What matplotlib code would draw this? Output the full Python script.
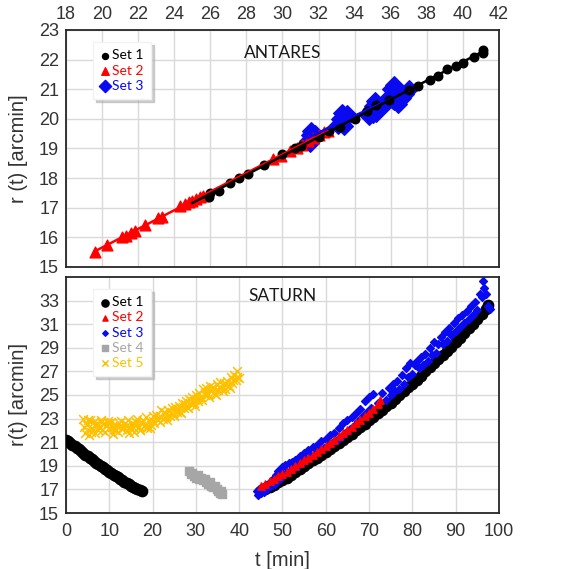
import numpy as np
import matplotlib
matplotlib.use('Agg')
import matplotlib.pyplot as plt

# ---------------- ANTARES ----------------
ant1_t = [25.9, 26.0, 26.5, 27.1, 27.6, 28.1, 29.0, 30.0, 30.7, 31.0, 32.0, 32.6, 33.2, 34.0,
          34.7, 35.2, 35.9, 37.0, 37.5, 38.2, 38.6, 39.1, 39.6, 40.0, 40.6, 41.1, 41.1]
ant1_r = [17.37, 17.5, 17.57, 17.82, 17.99, 18.15, 18.44, 18.8, 19.0, 19.1, 19.4, 19.58, 19.73, 20.01,
          20.25, 20.46, 20.65, 20.99, 21.12, 21.31, 21.44, 21.68, 21.79, 21.9, 22.1, 22.32, 22.22]

ant2_t = [19.6, 20.3, 21.1, 21.3, 21.6, 21.8, 22.4, 23.1, 23.3, 24.3, 24.6, 24.8, 25.0, 25.2,
          25.4, 25.6, 29.5, 29.9, 30.4, 30.8, 31.1, 31.4, 31.7, 32.0, 32.3, 32.5]
ant2_r = [15.5, 15.75, 16.0, 16.05, 16.15, 16.22, 16.42, 16.65, 16.7, 17.05, 17.12, 17.18, 17.24, 17.3,
          17.35, 17.4, 18.65, 18.75, 18.9, 19.0, 19.12, 19.25, 19.35, 19.45, 19.55, 19.6]

ant3_t = [31.4, 31.5, 31.6, 31.7, 31.5, 31.8, 33.1, 33.2, 33.3, 33.4, 33.5, 33.3, 33.6,
          34.8, 34.9, 35.0, 35.1, 35.2, 35.0, 35.7, 35.9, 36.0, 36.1, 36.2, 36.3, 36.4,
          36.5, 36.6, 36.8, 36.2, 37.0]
ant3_r = [19.25, 19.45, 19.6, 19.35, 19.2, 19.5, 19.8, 20.0, 20.2, 19.75, 20.05, 19.9, 20.15,
          20.1, 20.3, 20.45, 20.6, 20.2, 20.15, 20.5, 20.75, 21.0, 20.65, 21.15, 20.8, 20.5,
          20.9, 20.7, 20.85, 20.6, 21.0]

# ---------------- SATURN ----------------
sat1_t = [0, 0.5, 1, 1.5, 2, 2.5, 3, 3.5, 4, 4.5, 5, 5.5, 6, 6.5, 7, 7.5, 8, 8.5, 9, 9.5,
          10, 10.5, 11, 11.5, 12, 12.5, 13, 13.5, 14, 14.5, 15, 15.5, 16, 16.5, 17, 17.5,
          46, 47, 48, 49, 50, 51, 52, 53, 54, 55, 56, 57, 58, 59, 60, 61, 62, 63, 64, 65,
          66, 67, 68, 69, 70, 71, 72, 73, 74, 75, 76, 77, 78, 79, 80, 81, 82, 83, 84, 85,
          86, 87, 88, 89, 90, 91, 92, 93, 94, 95, 96, 97, 97.5]
sat1_r = [21.2, 21.1, 20.95, 20.8, 20.7, 20.55, 20.4, 20.25, 20.1, 19.95, 19.8, 19.67, 19.55,
          19.4, 19.27, 19.13, 19.0, 18.87, 18.75, 18.62, 18.5, 18.38, 18.26, 18.14, 18.02,
          17.9, 17.78, 17.66, 17.55, 17.44, 17.33, 17.23, 17.13, 17.03, 16.93, 16.83,
          17.0, 17.2, 17.4, 17.6, 17.8, 18.0, 18.25, 18.5, 18.7, 18.95, 19.2, 19.45, 19.7,
          19.95, 20.2, 20.45, 20.7, 20.95, 21.2, 21.45, 21.7, 22.0, 22.25, 22.55, 22.85,
          23.15, 23.45, 23.75, 24.05, 24.35, 24.65, 25.0, 25.3, 25.65, 25.95, 26.3, 26.65,
          27.0, 27.35, 27.7, 28.05, 28.4, 28.75, 29.1, 29.5, 29.85, 30.25, 30.65, 31.05,
          31.45, 31.85, 32.25, 32.6]

sat2_t = [45, 46, 47, 48, 49, 50, 51, 52, 53, 54, 55, 56, 57, 58, 59, 60, 61, 62, 63, 64,
          65, 66, 67, 68, 69, 70, 71, 72, 72.5]
sat2_r = [17.3, 17.5, 17.7, 17.9, 18.1, 18.3, 18.5, 18.75, 19.0, 19.2, 19.45, 19.7, 19.95,
          20.2, 20.45, 20.7, 20.95, 21.2, 21.5, 21.75, 22.05, 22.3, 22.6, 22.9, 23.2, 23.5,
          23.85, 24.2, 24.6]

sat3_t = [44.0, 44.3, 44.6, 45.0, 45.4, 45.8, 46.2, 46.6, 47.0, 47.4, 47.8, 48.2, 48.6, 49.0,
          49.4, 49.8, 50.2, 50.6, 51.0, 51.4, 51.8, 52.2, 52.6, 53.0, 53.5, 54.0, 54.5, 55.0,
          55.5, 56.0, 56.5, 57.0, 57.5, 58.0, 58.5, 59.0, 59.5, 60.0, 60.5, 61.0, 61.5, 62.0,
          62.5, 63.0, 63.5, 64.0, 64.5, 65.0, 65.5, 66.0, 66.5, 67.0, 67.5, 68.0, 68.5, 69.0,
          69.5, 70.0, 70.5, 71.0, 72.0, 73.0, 74.0, 74.5, 75.0, 75.5, 76.0, 76.5, 77.0, 77.5,
          78.0, 78.5, 79.0, 79.5, 80.0, 80.5, 81.0, 81.5, 82.0, 82.5, 83.0, 83.5, 84.0, 84.5,
          85.0, 85.5, 86.0, 86.5, 87.0, 87.5, 88.0, 88.5, 89.0, 89.5, 90.0, 90.5, 91.0, 91.5,
          92.0, 92.5, 93.0, 93.5, 94.0, 94.5, 95.0, 95.5, 96.0, 96.3, 96.6, 97.0, 97.5, 98.0]
sat3_r = [16.9, 16.5, 17.0, 16.7, 17.2, 16.8, 17.4, 17.1, 17.6, 17.3, 17.9, 17.5, 18.2, 18.6,
          17.9, 18.9, 18.3, 19.1, 18.5, 19.2, 18.6, 19.3, 18.8, 19.5, 19.0, 19.8, 19.2, 20.1,
          19.5, 20.3, 19.8, 20.6, 20.0, 20.8, 20.3, 21.1, 20.5, 21.3, 20.7, 21.6, 20.9, 21.8,
          21.2, 22.2, 21.4, 22.6, 21.8, 22.9, 22.1, 23.1, 22.4, 23.5, 22.8, 23.8, 23.2, 24.5,
          23.6, 24.8, 23.9, 25.1, 24.3, 25.2, 24.6, 25.6, 25.0, 25.9, 25.3, 26.2, 25.5, 26.7,
          25.9, 27.3, 26.5, 27.7, 26.8, 27.5, 27.9, 27.3, 28.2, 27.5, 28.5, 27.9, 29.0, 28.4,
          29.5, 28.6, 29.3, 29.9, 29.3, 30.3, 29.6, 30.7, 30.1, 31.1, 30.4, 31.5, 30.8, 31.8,
          31.1, 32.1, 31.4, 32.5, 31.8, 32.9, 32.2, 33.6, 33.3, 34.7, 34.1, 33.6, 32.5, 32.3]

sat4_t = [28.5, 28.8, 29.2, 29.6, 30.0, 30.4, 30.8, 31.2, 31.6, 32.0, 32.4, 32.8, 33.2, 33.6,
          34.0, 34.4, 34.8, 35.2, 35.6, 36.0, 35.8]
sat4_r = [18.6, 18.3, 18.4, 18.1, 18.0, 18.2, 17.9, 17.95, 17.8, 17.9, 17.6, 17.5, 17.6, 17.3,
          17.2, 17.3, 17.0, 16.9, 16.7, 16.6, 16.9]

sat5_t = [4.0, 4.4, 4.8, 5.2, 5.6, 6.0, 6.4, 6.8, 7.2, 7.6, 8.0, 8.4, 8.8, 9.2, 9.6, 10.0,
          10.4, 10.8, 11.2, 11.6, 12.0, 12.4, 12.8, 13.2, 13.6, 14.0, 14.4, 14.8, 15.2, 15.6,
          16.0, 16.4, 16.8, 17.2, 17.6, 18.0, 18.4, 18.8, 19.2, 19.6, 20.0, 20.4, 20.8, 21.2,
          21.6, 22.0, 22.4, 22.8, 23.2, 23.6, 24.0, 24.4, 24.8, 25.2, 25.6, 26.0, 26.4, 26.8,
          27.2, 27.6, 28.0, 28.4, 28.8, 29.2, 29.6, 30.0, 30.4, 30.8, 31.2, 31.6, 32.0, 32.4,
          32.8, 33.2, 33.6, 34.0, 34.4, 34.8, 35.2, 35.6, 36.0, 36.4, 36.8, 37.2, 37.6, 38.0,
          38.4, 38.8, 39.2, 39.6, 40.0,
          4.2, 5.0, 5.8, 6.6, 7.4, 8.2, 9.0, 9.8, 10.6, 11.4, 12.2, 13.0, 13.8, 14.6, 15.4,
          16.2, 17.0, 17.8, 18.6, 19.4, 20.2, 21.0, 21.8, 22.6, 23.4, 24.2, 25.0, 25.8, 26.6,
          27.4, 28.2, 29.0, 29.8, 30.6, 31.4, 32.2, 33.0, 33.8, 34.6, 35.4, 36.2, 37.0, 37.8,
          38.6, 39.4]
sat5_r = [23.0, 21.8, 22.5, 21.6, 22.9, 22.2, 22.7, 21.8, 22.6, 22.3, 22.9, 22.0, 22.6, 22.4,
          22.8, 22.2, 22.7, 21.7, 22.1, 22.5, 21.9, 22.4, 22.8, 22.2, 22.6, 22.0, 22.9, 22.3,
          22.6, 21.9, 22.5, 23.0, 22.3, 22.0, 22.7, 22.4, 23.1, 22.2, 22.8, 22.5, 23.2, 22.6,
          23.3, 22.9, 23.2, 23.7, 23.0, 23.5, 23.1, 23.7, 23.2, 23.9, 23.4, 24.0, 23.6, 24.1,
          23.6, 24.3, 23.9, 24.5, 24.0, 24.7, 24.2, 24.8, 24.3, 25.0, 24.5, 25.2, 24.8, 25.5,
          25.0, 25.6, 25.1, 25.8, 25.3, 25.7, 25.1, 25.9, 25.4, 26.1, 25.5, 26.0, 25.5, 26.2,
          25.8, 26.5, 26.0, 26.7, 26.3, 27.0, 26.4,
          22.3, 22.9, 21.9, 22.5, 22.0, 22.7, 21.9, 22.6, 22.3, 22.0, 22.6, 22.1, 22.4, 21.8,
          22.3, 22.7, 22.0, 22.9, 22.4, 22.2, 22.8, 23.0, 22.7, 23.6, 22.9, 23.5, 23.2, 23.8,
          23.5, 24.2, 23.9, 24.5, 24.1, 24.7, 24.6, 25.2, 24.8, 25.4, 25.0, 25.7, 25.3, 25.9,
          25.6, 26.3, 26.5]

BLACK = '#000000'
RED = '#ff0000'
BLUE = '#0a0af0'
GRAY = '#a6a6a6'
GOLD = '#ffc000'
TXT = '#333333'
LABEL_FONT = ['Lato', 'DejaVu Sans']

plt.rcParams['font.family'] = ['Liberation Sans', 'DejaVu Sans']

fig = plt.figure(figsize=(5.85, 5.69), dpi=100)
ax1 = fig.add_axes([0.1128, 0.5308, 0.7402, 0.4165])
ax2 = fig.add_axes([0.1128, 0.0984, 0.7402, 0.4148])


def style(ax):
    ax.grid(True, color='#d9d9d9', linewidth=1.0)
    ax.set_axisbelow(True)
    for s in ax.spines.values():
        s.set_color('#262626')
        s.set_linewidth(1.3)
    ax.tick_params(length=0, labelsize=13, labelcolor=TXT, pad=5)


def trend(ax, t, r, color, start=None):
    k, b = np.polyfit(t, r, 1)
    xs = np.array([min(t) if start is None else start, max(t)])
    ax.plot(xs, k * xs + b, color=color, lw=1.8, zorder=4)


def make_legend(ax, handles, labels):
    leg = ax.legend(handles, labels, loc='upper left', bbox_to_anchor=(0.062, 0.95),
                    borderaxespad=0, prop={'family': LABEL_FONT, 'size': 10},
                    markerscale=0.7, handlelength=0.6, handletextpad=0.25,
                    labelspacing=0.22, frameon=True, fancybox=False, borderpad=0.55,
                    shadow={'color': '#b0b0b0', 'alpha': 0.6},
                    labelcolor='markeredgecolor')
    leg.get_frame().set_edgecolor('#f2f2f2')
    return leg


# ---- top panel: Antares
style(ax1)
ax1.scatter(ant3_t, ant3_r, marker='D', s=80, color=BLUE, zorder=3, label='Set 3')
ax1.scatter(ant2_t, ant2_r, marker='^', s=60, color=RED, zorder=3, label='Set 2')
ax1.scatter(ant1_t, ant1_r, marker='o', s=38, color=BLACK, zorder=3, label='Set 1')
trend(ax1, ant2_t, ant2_r, RED)
trend(ax1, ant3_t, ant3_r, BLUE)
trend(ax1, ant1_t, ant1_r, BLACK, start=25.0)
ax1.set_xlim(18, 42)
ax1.set_ylim(15, 23)
ax1.set_xticks(range(18, 43, 2))
ax1.set_yticks(range(15, 24))
ax1.xaxis.tick_top()
ax1.set_ylabel('r (t) [arcmin]', fontsize=14.5, color=TXT, labelpad=8)
ax1.text(0.5, 0.903, 'ANTARES', transform=ax1.transAxes, ha='center', va='center',
         fontsize=12.5, family=LABEL_FONT, color='#1a1a1a')
h, l = ax1.get_legend_handles_labels()
make_legend(ax1, h[::-1], l[::-1])

# ---- bottom panel: Saturn
style(ax2)
ax2.scatter(sat5_t, sat5_r, marker='x', s=40, color=GOLD, linewidths=1.1, zorder=3, label='Set 5')
ax2.scatter(sat4_t, sat4_r, marker='s', s=30, color=GRAY, zorder=3, label='Set 4')
ax2.scatter(sat1_t, sat1_r, marker='o', s=55, color=BLACK, zorder=3, label='Set 1')
ax2.scatter(sat3_t, sat3_r, marker='D', s=16, color=BLUE, zorder=4, label='Set 3')
ax2.scatter(sat2_t, sat2_r, marker='^', s=28, color=RED, zorder=5, label='Set 2')
ax2.set_xlim(0, 100)
ax2.set_ylim(15, 35)
ax2.set_xticks(range(0, 101, 10))
ax2.set_yticks(range(15, 34, 2))
ax2.tick_params(axis='x', pad=7)
ax2.set_ylabel('r(t) [arcmin]', fontsize=14.5, color=TXT, labelpad=8)
ax2.set_xlabel('t [min]', fontsize=14.5, color=TXT, labelpad=8)
ax2.text(0.5, 0.919, 'SATURN', transform=ax2.transAxes, ha='center', va='center',
         fontsize=12.5, family=LABEL_FONT, color='#1a1a1a')
h, l = ax2.get_legend_handles_labels()
order = [2, 4, 3, 1, 0]
make_legend(ax2, [h[i] for i in order], [l[i] for i in order])

fig.savefig('out.png', dpi=100)
